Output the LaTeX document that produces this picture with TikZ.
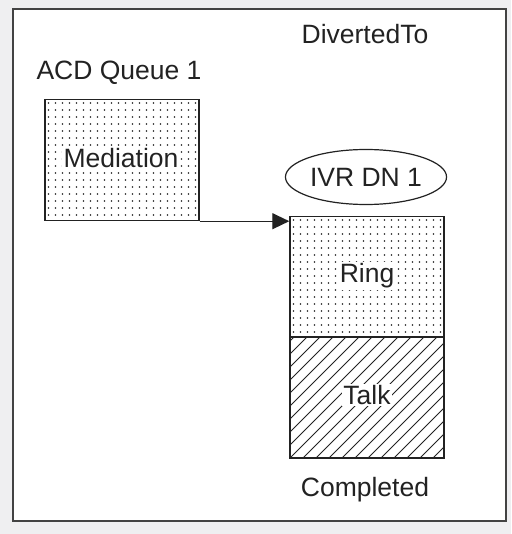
\documentclass[tikz,border=0pt]{standalone}
\usepackage{fontspec}
\setmainfont{Liberation Sans}
\usetikzlibrary{arrows.meta,shapes.geometric}
\definecolor{bgout}{HTML}{EFEFF1}
\definecolor{ink}{HTML}{222222}
\tikzset{
  lbl/.style={font=\fontsize{26.5}{30}\selectfont, text=ink, inner sep=1pt},
  boxline/.style={draw=ink, line width=1.4pt},
  dotted box/.style={boxline, rectangle, minimum width=154pt, minimum height=121pt, inner sep=0pt,
    path picture={
      \foreach \i in {0,...,22}{\foreach \j in {0,...,18}{
        \fill[ink] ([xshift=\i*7pt+3.5pt, yshift=-\j*7pt-3.5pt]path picture bounding box.north west) circle[radius=0.9pt];}}
    }},
  hatch box/.style={boxline, rectangle, minimum width=154pt, minimum height=121pt, inner sep=0pt,
    path picture={
      \foreach \k in {-12,...,14}{
        \draw[ink, line width=0.9pt] ([xshift=\k*13pt]path picture bounding box.south west) -- ++(140pt,140pt);}
    }},
  tag/.style={lbl, fill=white, inner sep=1.5pt},
  conn/.style={ink, line width=1.2pt, -{Triangle[length=17pt,width=16pt]}}
}
\begin{document}
\begin{tikzpicture}[x=1pt,y=-1pt]
\useasboundingbox (0,0) rectangle (511,534);
\fill[bgout] (0,0) rectangle (511,534);
\draw[fill=white, draw=ink!85, line width=1.4pt] (13,9) rectangle (506,521);

\node[lbl] (div) at (365,34) {DivertedTo};
\node[lbl] (acd) at (119,73) {ACD Queue 1};

\node[dotted box] (med) at (122,160) {};
\node[tag] (medt) at (121,158) {Mediation};

\node[ellipse, draw=ink, line width=1.2pt, minimum width=154pt, minimum height=55pt, inner sep=0pt, lbl] (ivr) at (366,177) {IVR DN 1};

\node[dotted box] (ring) at (367,277) {};
\node[tag] (ringt) at (367,276) {Ring};
\node[hatch box] (talk) at (367,397.5) {};
\node[tag] (talkt) at (367,395) {Talk};

\node[lbl] (comp) at (365,490) {Completed};

\draw[conn] (med.south east) -- (med.south east -| ring.west);
\end{tikzpicture}
\end{document}
